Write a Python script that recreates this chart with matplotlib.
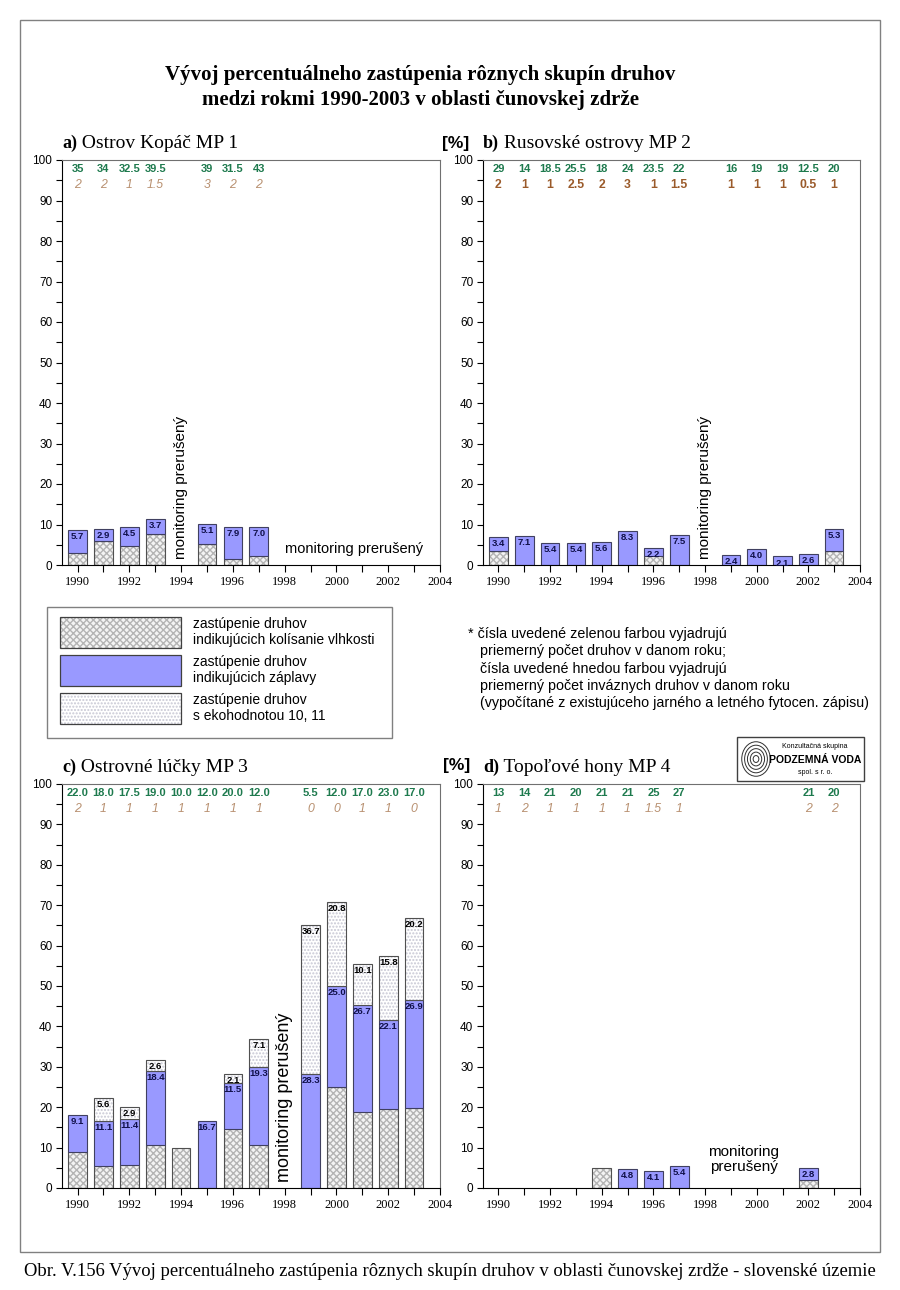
import matplotlib
matplotlib.use('Agg')
import matplotlib.pyplot as plt
from matplotlib.patches import Rectangle, Ellipse
from matplotlib.ticker import MultipleLocator

W, H = 900, 1290

# --- data ---
years_a = [1990, 1991, 1992, 1993, 1995, 1996, 1997]
a_hatch = [2.9, 6.0, 4.8, 7.6, 5.1, 1.5, 2.3]
a_blue = [5.7, 2.9, 4.5, 3.7, 5.1, 7.9, 7.0]
a_light = [0, 0, 0, 0, 0, 0, 0]
a_green = ['35', '34', '32.5', '39.5', '39', '31.5', '43']
a_brown = ['2', '2', '1', '1.5', '3', '2', '2']

years_b = [1990, 1991, 1992, 1993, 1994, 1995, 1996, 1997, 1999, 2000, 2001, 2002, 2003]
b_hatch = [3.5, 0, 0, 0, 0, 0, 2.1, 0, 0, 0, 0, 0, 3.5]
b_blue = [3.4, 7.1, 5.4, 5.4, 5.6, 8.3, 2.2, 7.5, 2.4, 4.0, 2.1, 2.6, 5.3]
b_light = [0] * 13
b_green = ['29', '14', '18.5', '25.5', '18', '24', '23.5', '22', '16', '19', '19', '12.5', '20']
b_brown = ['2', '1', '1', '2.5', '2', '3', '1', '1.5', '1', '1', '1', '0.5', '1']

years_c = [1990, 1991, 1992, 1993, 1994, 1995, 1996, 1997, 1999, 2000, 2001, 2002, 2003]
c_hatch = [9.0, 5.5, 5.7, 10.6, 10.0, 0, 14.6, 10.6, 0, 25.0, 18.7, 19.6, 19.7]
c_blue = [9.1, 11.1, 11.4, 18.4, 0, 16.7, 11.5, 19.3, 28.3, 25.0, 26.7, 22.1, 26.9]
c_light = [0, 5.6, 2.9, 2.6, 0, 0, 2.1, 7.1, 36.7, 20.8, 10.1, 15.8, 20.2]
c_green = ['22.0', '18.0', '17.5', '19.0', '10.0', '12.0', '20.0', '12.0', '5.5', '12.0', '17.0', '23.0', '17.0']
c_brown = ['2', '1', '1', '1', '1', '1', '1', '1', '0', '0', '1', '1', '0']

years_d = [1994, 1995, 1996, 1997, 2002]
d_hatch = [4.9, 0, 0, 0, 2.1]
d_blue = [0, 4.8, 4.1, 5.4, 2.8]
d_light = [0, 0, 0, 0, 0]
years_d_lab = [1990, 1991, 1992, 1993, 1994, 1995, 1996, 1997, 2002, 2003]
d_green = ['13', '14', '21', '20', '21', '21', '25', '27', '21', '20']
d_brown = ['1', '2', '1', '1', '1', '1', '1.5', '1', '2', '2']

BLUE = '#9999ff'
GREEN = '#1e7a4e'
HATCH_C = '#b4b4b4'
SERIF = 'Liberation Serif'
SANS = 'Liberation Sans'


def px_rect(l, t, r, b):
    return [l / W, 1 - b / H, (r - l) / W, (b - t) / H]


def stacked(ax, years, hatch, blue, light):
    w = 0.72
    for x, h, bl, li in zip(years, hatch, blue, light):
        if h > 0:
            ax.bar(x, h, w, color='#f4f4f4', hatch='xxxxx', edgecolor=HATCH_C, linewidth=0)
            ax.bar(x, h, w, fill=False, edgecolor='#505050', linewidth=0.8)
        if bl > 0:
            ax.bar(x, bl, w, bottom=h, color=BLUE, edgecolor='#404060', linewidth=0.8)
            ax.text(x, h + bl - 0.5, f'{bl:.1f}', ha='center', va='top', fontsize=6.8,
                    fontweight='bold', color='#10104a', family=SANS)
        if li > 0:
            ax.bar(x, li, w, bottom=h + bl, color='white', hatch='.....', edgecolor='#c8c8d4', linewidth=0)
            ax.bar(x, li, w, bottom=h + bl, fill=False, edgecolor='#505050', linewidth=0.8)
            ax.text(x, h + bl + li - 0.5, f'{li:.1f}', ha='center', va='top', fontsize=6.8,
                    fontweight='bold', color='black', family=SANS)


def style_axes(ax):
    ax.set_xlim(1989.4, 2004)
    ax.set_ylim(0, 100)
    ax.set_xticks(range(1990, 2005, 2))
    ax.xaxis.set_minor_locator(MultipleLocator(1))
    ax.yaxis.set_major_locator(MultipleLocator(10))
    ax.yaxis.set_minor_locator(MultipleLocator(5))
    ax.tick_params(axis='x', which='both', direction='out', length=5, width=0.8, labelsize=9, pad=3)
    ax.tick_params(axis='y', which='both', direction='out', length=4, width=0.8, labelsize=8.5, pad=3)
    for lab in ax.get_xticklabels():
        lab.set_family(SERIF)
    for lab in ax.get_yticklabels():
        lab.set_family(SANS)
    for s in ['top', 'right']:
        ax.spines[s].set_color('#707070')
    for s in ['left', 'bottom']:
        ax.spines[s].set_color('black')


def top_labels(ax, years, green, brown, brown_color, italic=True):
    for x, g, b in zip(years, green, brown):
        ax.text(x, 97.8, g, ha='center', va='center', fontsize=8, fontweight='bold',
                color=GREEN, family=SANS)
        ax.text(x, 93.8, b, ha='center', va='center', fontsize=8.8,
                color=brown_color, family=SANS, style='italic' if italic else 'normal',
                fontweight='normal' if italic else 'bold')


def panel_title(ax, x, y, letter, rest):
    t = ax.figure.text(x / W, 1 - y / H, letter, fontsize=13, fontweight='bold', family=SERIF,
                       va='baseline')
    ax.annotate(' ' + rest, xy=(1, 0), xycoords=t, fontsize=14, family=SERIF, va='bottom',
                annotation_clip=False)


fig = plt.figure(figsize=(9, 12.9), dpi=100)

# outer frame
fig.patches.append(Rectangle((20 / W, 1 - 1252 / H), 860 / W, 1232 / H, transform=fig.transFigure,
                             fill=False, edgecolor='#808080', linewidth=1))

fig.text(420 / W, 1 - 75 / H, 'Vývoj percentuálneho zastúpenia rôznych skupín druhov',
         ha='center', va='center', fontsize=15, fontweight='bold', family=SERIF)
fig.text(420 / W, 1 - 100 / H, 'medzi rokmi 1990-2003 v oblasti čunovskej zdrže',
         ha='center', va='center', fontsize=15, fontweight='bold', family=SERIF)

# panel a
ax_a = fig.add_axes(px_rect(62, 160, 440, 565))
stacked(ax_a, years_a, a_hatch, a_blue, a_light)
style_axes(ax_a)
top_labels(ax_a, years_a, a_green, a_brown, '#b89070')
ax_a.text(1994, 1.5, 'monitoring prerušený', rotation=90, ha='center', va='bottom', fontsize=11, family=SANS)
ax_a.text(1998, 4, 'monitoring prerušený', ha='left', va='center', fontsize=10.5, family=SANS)
panel_title(ax_a, 62, 148, 'a)', 'Ostrov Kopáč MP 1')

# panel b
ax_b = fig.add_axes(px_rect(483, 160, 860, 565))
stacked(ax_b, years_b, b_hatch, b_blue, b_light)
style_axes(ax_b)
top_labels(ax_b, years_b, b_green, b_brown, '#9a5a2a', italic=False)
ax_b.text(1998, 1.5, 'monitoring prerušený', rotation=90, ha='center', va='bottom', fontsize=11, family=SANS)
panel_title(ax_b, 483, 148, 'b)', 'Rusovské ostrovy MP 2')
fig.text(442 / W, 1 - 148 / H, '[%]', fontsize=12.5, fontweight='bold', family=SANS, va='baseline')

# legend box
fig.patches.append(Rectangle((47 / W, 1 - 738 / H), 345 / W, 131 / H, transform=fig.transFigure,
                             fill=False, edgecolor='#808080', linewidth=1))
leg_items = [
    ('#f4f4f4', 'xxxxx', HATCH_C, 'zastúpenie druhov\nindikujúcich kolísanie vlhkosti'),
    (BLUE, None, None, 'zastúpenie druhov\nindikujúcich záplavy'),
    ('white', '.....', '#c8c8d4', 'zastúpenie druhov\ns ekohodnotou 10, 11'),
]
for i, (fc, hatch, hc, label) in enumerate(leg_items):
    top = 617 + i * 38
    x0, y0, rw, rh = 60 / W, 1 - (top + 31) / H, 121 / W, 31 / H
    if hatch:
        fig.patches.append(Rectangle((x0, y0), rw, rh, transform=fig.transFigure,
                                     facecolor=fc, hatch=hatch, edgecolor=hc, linewidth=0))
    else:
        fig.patches.append(Rectangle((x0, y0), rw, rh, transform=fig.transFigure,
                                     facecolor=fc, linewidth=0))
    fig.patches.append(Rectangle((x0, y0), rw, rh, transform=fig.transFigure,
                                 fill=False, edgecolor='#404040', linewidth=0.9))
    fig.text(193 / W, 1 - (top + 15) / H, label, fontsize=10, family=SANS, va='center',
             linespacing=1.25)

note = ('* čísla uvedené zelenou farbou vyjadrujú\n'
        '   priemerný počet druhov v danom roku;\n'
        '   čísla uvedené hnedou farbou vyjadrujú\n'
        '   priemerný počet inváznych druhov v danom roku\n'
        '   (vypočítané z existujúceho jarného a letného fytocen. zápisu)')
fig.text(468 / W, 1 - 627 / H, note, fontsize=10.3, family=SANS, va='top', linespacing=1.3)

# logo
fig.patches.append(Rectangle((737 / W, 1 - 781 / H), 127 / W, 44 / H, transform=fig.transFigure,
                             fill=False, edgecolor='#404040', linewidth=1))
for r in [3, 6, 9, 12, 15]:
    fig.patches.append(Ellipse((756 / W, 1 - 759 / H), 2 * r * 0.95 / W, 2 * r * 1.15 / H,
                               transform=fig.transFigure, fill=False, edgecolor='#303030',
                               linewidth=0.7))
fig.text(815 / W, 1 - 746 / H, 'Konzultačná skupina', fontsize=5, family=SANS, ha='center', va='center')
fig.text(815 / W, 1 - 760 / H, 'PODZEMNÁ VODA', fontsize=7.5, fontweight='bold', family=SANS,
         ha='center', va='center')
fig.text(815 / W, 1 - 773 / H, 'spol. s r. o.', fontsize=5, family=SANS, ha='center', va='center')

# panel c
ax_c = fig.add_axes(px_rect(62, 784, 440, 1188))
stacked(ax_c, years_c, c_hatch, c_blue, c_light)
style_axes(ax_c)
top_labels(ax_c, years_c, c_green, c_brown, '#b89070')
ax_c.text(1998, 1.5, 'monitoring prerušený', rotation=90, ha='center', va='bottom', fontsize=13, family=SANS)
panel_title(ax_c, 62, 772, 'c)', 'Ostrovné lúčky MP 3')

# panel d
ax_d = fig.add_axes(px_rect(483, 784, 860, 1188))
stacked(ax_d, years_d, d_hatch, d_blue, d_light)
style_axes(ax_d)
top_labels(ax_d, years_d_lab, d_green, d_brown, '#b89070')
ax_d.text(1999.5, 7, 'monitoring\nprerušený', ha='center', va='center', fontsize=11, family=SANS,
          linespacing=1.1)
panel_title(ax_d, 483, 772, 'd)', 'Topoľové hony MP 4')
fig.text(443 / W, 1 - 770 / H, '[%]', fontsize=12.5, fontweight='bold', family=SANS, va='baseline')

fig.text(450 / W, 1 - 1272 / H,
         'Obr. V.156 Vývoj percentuálneho zastúpenia rôznych skupín druhov v oblasti čunovskej zrdže - slovenské územie',
         ha='center', va='center', fontsize=13.4, family=SERIF)

fig.savefig('out.png', dpi=100)
